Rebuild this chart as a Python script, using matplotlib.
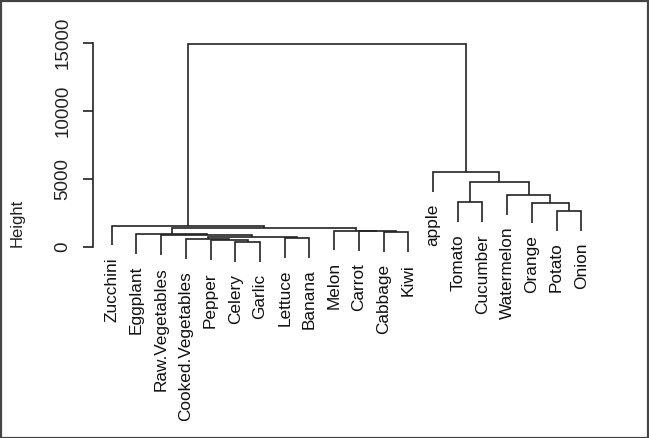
import matplotlib
matplotlib.use('Agg')
import matplotlib.pyplot as plt
from matplotlib.patches import Rectangle

plt.rcParams['font.family'] = ['Liberation Sans', 'DejaVu Sans']

# Leaves in plotting order (left to right)
leaves = ['Zucchini', 'Eggplant', 'Raw.Vegetables', 'Cooked.Vegetables', 'Pepper',
          'Celery', 'Garlic', 'Lettuce', 'Banana', 'Melon', 'Carrot', 'Cabbage',
          'Kiwi', 'apple', 'Tomato', 'Cucumber', 'Watermelon', 'Orange', 'Potato', 'Onion']

# Merge steps: (left child, right child, height); ints refer to earlier merges (0-based)
merge_left = ['Celery', 'Pepper', 'Cooked.Vegetables', 'Lettuce', 2, 'Raw.Vegetables',
              'Eggplant', 'Cabbage', 'Carrot', 'Melon', 6, 'Zucchini',
              'Potato', 'Orange', 'Tomato', 'Watermelon', 14, 'apple', 11]
merge_right = ['Garlic', 0, 1, 'Banana', 3, 4,
               5, 'Kiwi', 7, 8, 9, 10,
               'Onion', 12, 'Cucumber', 13, 15, 16, 17]
merge_height = [350, 500, 560, 670, 700, 850,
                940, 1080, 1160, 1210, 1400, 1570,
                2650, 3230, 3300, 3820, 4780, 5500, 14900]

yticks = [0, 5000, 10000, 15000]

hang = 0.1 * (max(merge_height) - min(merge_height))

fig = plt.figure(figsize=(6.49, 4.38), dpi=100)
W, H = 649, 438
# plot region in pixels
px_left, px_right, px_top, px_bottom = 93, 600, 30, 416
ax = fig.add_axes([px_left / W, 1 - px_bottom / H,
                   (px_right - px_left) / W, (px_bottom - px_top) / H])

# y scale: 0 at pixel 247, 15000 at pixel 43
scale = (247 - 43) / 15000
ax.set_ylim(-(px_bottom - 247) / scale, (247 - px_top) / scale)
n = len(leaves)
ax.set_xlim(1 - 0.04 * (n - 1), n + 0.04 * (n - 1))

lc = '#222222'
lw = 1.2
merge_x = []


def child_pos(c, h):
    if isinstance(c, int):
        return merge_x[c], merge_height[c], False
    return leaves.index(c) + 1, h - hang, True


for l, r, h in zip(merge_left, merge_right, merge_height):
    xl, yl, leaf_l = child_pos(l, h)
    xr, yr, leaf_r = child_pos(r, h)
    ax.plot([xl, xl, xr, xr], [yl, h, h, yr], color=lc, lw=lw,
            solid_joinstyle='miter', solid_capstyle='butt')
    for c, x, y, is_leaf in ((l, xl, yl, leaf_l), (r, xr, yr, leaf_r)):
        if is_leaf:
            ax.annotate(c, xy=(x, y), xytext=(0, -12), textcoords='offset pixels',
                        rotation=90, ha='center', va='top', fontsize=12.4,
                        color='#111111', annotation_clip=False)
    merge_x.append((xl + xr) / 2)

# axes styling
for s in ['top', 'right', 'bottom']:
    ax.spines[s].set_visible(False)
ax.spines['left'].set_bounds(0, 15000)
ax.spines['left'].set_color(lc)
ax.spines['left'].set_linewidth(lw)
ax.set_xticks([])
ax.set_yticks(yticks)
ax.set_yticklabels([str(t) for t in yticks], rotation=90, va='center', fontsize=13.5,
                   color='#222222')
ax.tick_params(axis='y', length=7, width=lw, color=lc, pad=8.5)

fig.text(17 / W, 1 - 223 / H, 'Height', rotation=90, ha='center', va='center',
         fontsize=12, color='#222222')

# outer border of the image
fig.patches.append(Rectangle((0.5 / W, 0.5 / H), 1 - 1.5 / W, 1 - 1.5 / H,
                             transform=fig.transFigure, fill=False,
                             edgecolor='#444444', linewidth=1.6))

fig.savefig('out.png', dpi=100)
